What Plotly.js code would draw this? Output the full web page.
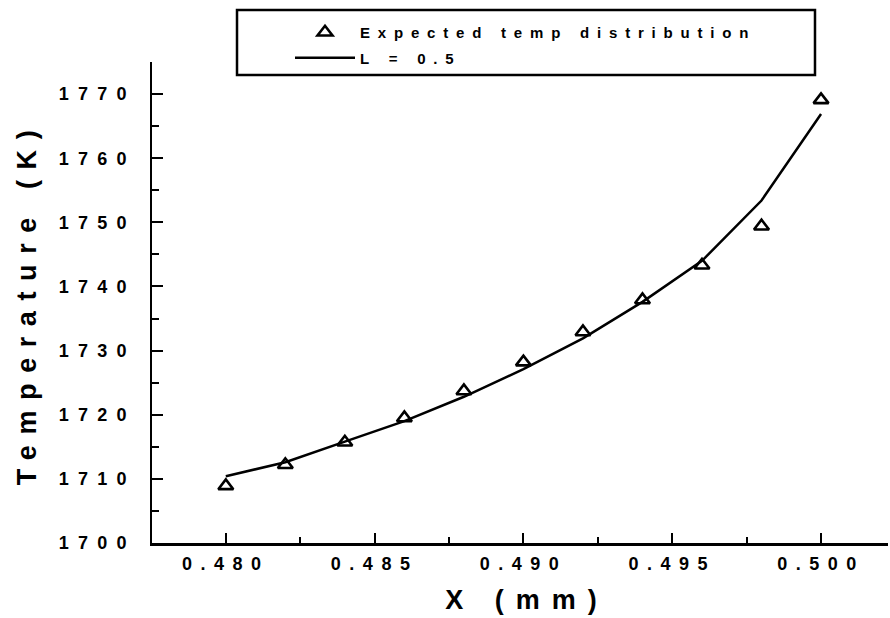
<!DOCTYPE html>
<html>
<head>
<meta charset="utf-8">
<script src="https://cdn.plot.ly/plotly-3.0.1.min.js"></script>
<style>
  html, body { margin: 0; padding: 0; background: #fff; }
  #chart { width: 890px; height: 618px; }
  .ytick text { letter-spacing: 9.3px; }
  .xtick text { letter-spacing: 8.5px; }
  .g-ytitle text { letter-spacing: 10.6px; }
  .g-xtitle text { letter-spacing: 12px; transform: translate(7px, 0px); }
  .legendtext { letter-spacing: 7.8px; }
</style>
</head>
<body>
<div id="chart"></div>
<script>
// Data
const xPoints = [0.480, 0.482, 0.484, 0.486, 0.488, 0.490, 0.492, 0.494, 0.496, 0.498, 0.500];
const expectedTemp = [1708.9, 1712.2, 1715.7, 1719.5, 1723.7, 1728.2, 1732.9, 1737.9, 1743.3, 1749.4, 1769.1];
const xLine = [0.480, 0.482, 0.484, 0.486, 0.488, 0.490, 0.492, 0.494, 0.496, 0.498, 0.500];
const lineTemp = [1710.4, 1712.6, 1715.8, 1719.0, 1722.8, 1727.1, 1731.9, 1737.6, 1744.0, 1753.4, 1766.9];
const seriesNames = ["Expected temp distribution", "L = 0.5"];
const xTickVals = [0.480, 0.485, 0.490, 0.495, 0.500];
const xTickText = ["0.480", "0.485", "0.490", "0.495", "0.500"];
const yTickVals = [1700, 1710, 1720, 1730, 1740, 1750, 1760, 1770];
const yTickText = ["1700", "1710", "1720", "1730", "1740", "1750", "1760", "1770"];

const FONT = "Liberation Sans, Arial, sans-serif";

const traces = [
  {
    x: xPoints, y: expectedTemp, name: seriesNames[0], legendgroup: "a",
    type: "scatter", mode: "markers",
    marker: { symbol: "triangle-up-open", size: 13, color: "#000", line: { width: 2.6, color: "#000" } },
    cliponaxis: false
  },
  {
    x: xLine, y: lineTemp, name: seriesNames[1], legendgroup: "b",
    type: "scatter", mode: "lines",
    line: { color: "#000", width: 2.5 },
    cliponaxis: false
  }
];

// legend frame (paper coordinates)
const legendFrame = { x0: 0.1155, x1: 0.9008, y0: 0.9730, y1: 1.1081 };

const layout = {
  width: 890, height: 618,
  paper_bgcolor: "#fff", plot_bgcolor: "#fff",
  margin: { l: 152, r: 2, t: 62, b: 75, autoexpand: false },
  font: { family: FONT, color: "#000", size: 14, weight: "bold" },
  showlegend: true,
  legend: {
    x: 0.1875, xanchor: "left", y: 1.0956, yanchor: "top",
    bgcolor: "rgba(0,0,0,0)", borderwidth: 0,
    font: { family: FONT, size: 15, color: "#000", weight: "bold" },
    itemwidth: 60,
    tracegroupgap: 3
  },
  shapes: [{
    type: "rect", xref: "paper", yref: "paper",
    x0: legendFrame.x0, x1: legendFrame.x1, y0: legendFrame.y0, y1: legendFrame.y1,
    line: { color: "#000", width: 2.5 }, fillcolor: "#fff", layer: "below"
  }],
  xaxis: {
    range: [0.47752, 0.50225], autorange: false,
    showgrid: false, zeroline: false,
    showline: true, linecolor: "#000", linewidth: 2.5,
    ticks: "inside", ticklen: 10, tickwidth: 2, tickcolor: "#000",
    tickmode: "array", tickvals: xTickVals, ticktext: xTickText,
    tickfont: { family: FONT, size: 18, weight: "bold" },
    ticklabelstandoff: 3,
    minor: { ticks: "inside", dtick: 0.0025, tick0: 0.4775, ticklen: 6, tickwidth: 2, tickcolor: "#000", showgrid: false },
    title: { text: "X (mm)", font: { family: FONT, size: 27, weight: "bold" }, standoff: 17 },
    automargin: false
  },
  yaxis: {
    range: [1700, 1775], autorange: false,
    showgrid: false, zeroline: false,
    showline: true, linecolor: "#000", linewidth: 2.5,
    ticks: "inside", ticklen: 11, tickwidth: 2, tickcolor: "#000",
    tickmode: "array", tickvals: yTickVals, ticktext: yTickText,
    tickfont: { family: FONT, size: 18, weight: "bold" },
    ticklabelstandoff: 10,
    minor: { ticks: "inside", dtick: 5, tick0: 1700, ticklen: 7, tickwidth: 2, tickcolor: "#000", showgrid: false },
    title: { text: "Temperature (K)", font: { family: FONT, size: 27, weight: "bold" }, standoff: 14 },
    automargin: false
  }
};

Plotly.newPlot("chart", traces, layout, { displayModeBar: false, staticPlot: true });
</script>
</body>
</html>
